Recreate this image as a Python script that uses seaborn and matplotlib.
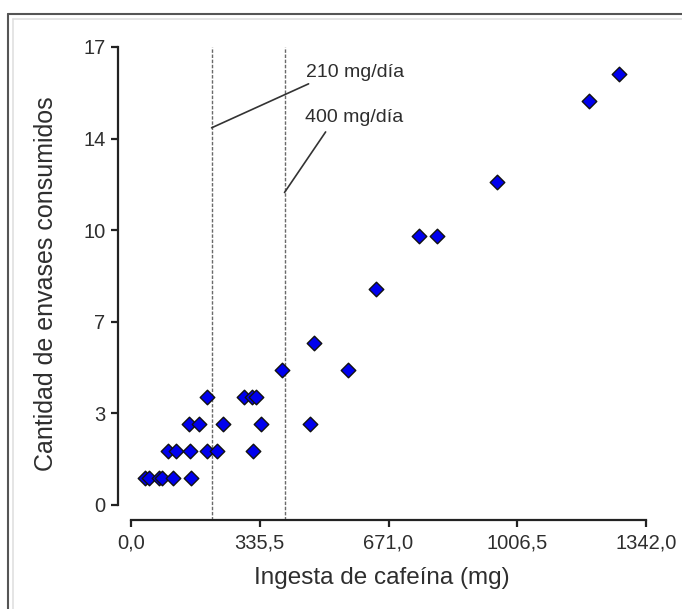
import matplotlib
matplotlib.use("Agg")
import matplotlib.pyplot as plt
from matplotlib.lines import Line2D
import numpy as np
import pandas as pd
import seaborn as sns

# ---- data ----
cafeina_mg = [36, 48, 72, 80, 110, 156,
              97, 117, 155, 199, 225, 317,
              151, 178, 240, 340, 466,
              199, 294, 315, 326,
              394, 565,
              478,
              638,
              750, 798,
              953,
              1193,
              1272]
envases = [1, 1, 1, 1, 1, 1,
           2, 2, 2, 2, 2, 2,
           3, 3, 3, 3, 3,
           4, 4, 4, 4,
           5, 5,
           6,
           8,
           10, 10,
           12,
           15,
           16]
limites = [210, 400]
limite_labels = ["210 mg/día", "400 mg/día"]
x_ticks = [0.0, 335.5, 671.0, 1006.5, 1342.0]
x_tick_labels = ["0,0", "335,5", "671,0", "1006,5", "1342,0"]
y_ticks = [0.0, 3.4, 6.8, 10.2, 13.6, 17.0]
y_tick_labels = ["0", "3", "7", "10", "14", "17"]

df = pd.DataFrame({"Ingesta de cafeína (mg)": cafeina_mg,
                   "Cantidad de envases consumidos": envases})

sns.set_style("white")
plt.rcParams["font.family"] = ["Liberation Sans", "DejaVu Sans"]
txt = "#2e2e2e"

fig = plt.figure(figsize=(6.82, 6.09), dpi=100)
ax = fig.add_axes([118 / 682, 89 / 609, 528 / 682, 473 / 609])

for xv in limites:
    ax.axvline(xv, color="#6a6a6a", lw=1.0, ls=(0, (2.5, 1.2)), zorder=1)

sns.scatterplot(data=df, x="Ingesta de cafeína (mg)", y="Cantidad de envases consumidos",
                marker="D", s=55, color="#0000ee", edgecolor="#111111", linewidth=1.0,
                ax=ax, zorder=3, clip_on=False)

ax.set_xlim(-33.9, 1342)
ax.set_ylim(-0.557, 17)

for s in ["top", "right"]:
    ax.spines[s].set_visible(False)
for s in ["left", "bottom"]:
    ax.spines[s].set_color("#222222")
    ax.spines[s].set_linewidth(1.6)
ax.spines["left"].set_bounds(0, 17)
ax.spines["bottom"].set_bounds(0, 1342)

ax.set_xticks(x_ticks)
ax.set_xticklabels(x_tick_labels)
ax.set_yticks(y_ticks)
ax.set_yticklabels(y_tick_labels)
ax.tick_params(axis="both", which="major", length=5, width=1.6, color="#222222",
               labelsize=14.5, labelcolor=txt, left=True, bottom=True)
ax.tick_params(axis="x", pad=5)
ax.tick_params(axis="y", pad=4)

ax.set_xlabel("Ingesta de cafeína (mg)", fontsize=17.5, color=txt, labelpad=10)
ax.set_ylabel("Cantidad de envases consumidos", fontsize=18, color=txt, labelpad=18)

# annotations
ax.annotate(limite_labels[0], xy=(limites[0], 14.0), xytext=(456, 16.07),
            fontsize=14, color=txt, va="center", ha="left",
            arrowprops=dict(arrowstyle="-", color="#333333", lw=1.2,
                            shrinkA=0, shrinkB=0, relpos=(0.1, 0.0)))
ax.annotate(limite_labels[1], xy=(limites[1], 11.6), xytext=(453, 14.37),
            fontsize=14, color=txt, va="center", ha="left",
            arrowprops=dict(arrowstyle="-", color="#333333", lw=1.2,
                            shrinkA=2, shrinkB=0, relpos=(0.25, 0.0)))

# outer frame of the image
fig.add_artist(Line2D([8 / 682, 1.0], [1 - 14 / 609, 1 - 14 / 609], transform=fig.transFigure,
                      color="#555555", lw=1.5))
fig.add_artist(Line2D([8 / 682, 8 / 682], [0.0, 1 - 14 / 609], transform=fig.transFigure,
                      color="#555555", lw=1.5))
fig.add_artist(Line2D([13 / 682, 1.0], [1 - 19 / 609, 1 - 19 / 609], transform=fig.transFigure,
                      color="#e0e0e0", lw=1.2))
fig.add_artist(Line2D([13 / 682, 13 / 682], [0.0, 1 - 19 / 609], transform=fig.transFigure,
                      color="#e0e0e0", lw=1.2))

fig.savefig("out.png", dpi=100)
